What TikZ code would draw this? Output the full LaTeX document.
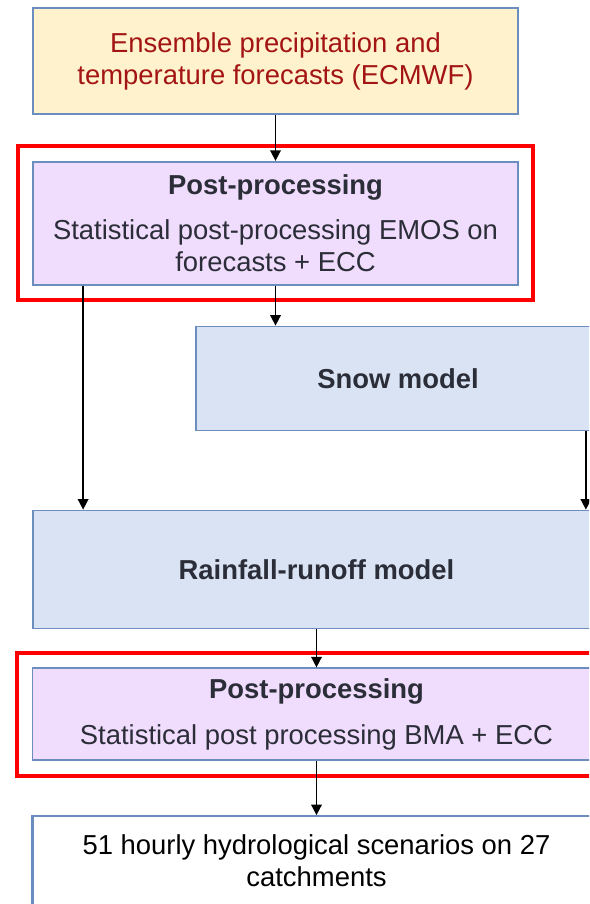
\documentclass[tikz,border=0pt]{standalone}
\usepackage{fontspec}
\setmainfont{Liberation Sans}
\usepackage{tikz}
\usetikzlibrary{arrows.meta}
\usetikzlibrary{positioning}
\usetikzlibrary{fit}
\definecolor{edgeblue}{HTML}{6C8EBF}
\definecolor{srcfill}{HTML}{FFF2CC}
\definecolor{srctext}{HTML}{A31515}
\definecolor{ppfill}{HTML}{F0DCFC}
\definecolor{modelfill}{HTML}{DAE3F3}
\definecolor{darktext}{HTML}{2B2E38}
\tikzstyle{chain_style}=[
	>={Triangle[length=6pt,width=6pt]}, line width=0.9pt, node distance=0.9cm,
	stage/.style={rectangle,draw=edgeblue,line width=1pt,align=center,inner sep=2pt,font=\fontsize{15.6}{18.2}\selectfont},
	source/.style={stage,fill=srcfill,text=srctext,minimum width=9.7cm,minimum height=2.12cm},
	post/.style={stage,fill=ppfill,text=darktext},
	model/.style={stage,fill=modelfill,text=darktext,font=\fontsize{15.6}{18.2}\selectfont\bfseries},
	result/.style={stage,fill=white,line width=1.2pt,minimum width=11.36cm,minimum height=2.8cm},
	resulttext/.style={align=center,inner sep=0pt,text=black,font=\fontsize{15.6}{18.2}\selectfont},
	frame/.style={rectangle,draw=red,line width=2.3pt,inner sep=0.29cm}
]

\begin{document}
\begin{tikzpicture}[chain_style]
			
			\path[use as bounding box, clip] (0,0) rectangle (11.78,-18.08);
			
			%forecasts
			\node[source] (ens) at (5.51,-1.22) {Ensemble precipitation and\\temperature forecasts (ECMWF)};
			
			%first post-processing
			\node[post,minimum width=9.7cm,minimum height=2.46cm] (pp1)[below=0.92cm of ens] {\textbf{Post-processing}\\[7pt]Statistical post-processing EMOS on\\forecasts + ECC};
			\node[frame,fit=(pp1)] (fr1) {};
			
			%models
			\node[model,minimum width=8.08cm,minimum height=2.08cm] (snow)[below right=0.8cm and 3.26cm of pp1.south west] {Snow model};
			\node[model,minimum width=11.34cm,minimum height=2.36cm] (rain)[below right=4.48cm and 0cm of pp1.south west] {Rainfall-runoff model};
			
			%second post-processing
			\node[post,minimum width=11.36cm,minimum height=1.84cm] (pp2)[below=0.76cm of rain] {\textbf{Post-processing}\\[8pt]Statistical post processing BMA + ECC};
			\node[frame,fit=(pp2)] (fr2) {};
			
			%output
			\node[result] (scen)[below=1.08cm of pp2] {};
			\node[resulttext] (scentext)[below=0.38cm of scen.north] {51 hourly hydrological scenarios on 27\\catchments};
			
			\coordinate (ppleft) at ([xshift=1.02cm]pp1.south west);
			\coordinate (snowright) at ([xshift=-0.3cm]snow.south east);
			
			\path[->] (ens) edge [] (pp1)
			(pp1) edge [] (pp1 |- snow.north)
			(ppleft) edge [] (ppleft |- rain.north)
			(snowright) edge [] (snowright |- rain.north)
			(rain) edge [] (pp2)
			(pp2) edge [] (scen);
			
\end{tikzpicture}
\end{document}
